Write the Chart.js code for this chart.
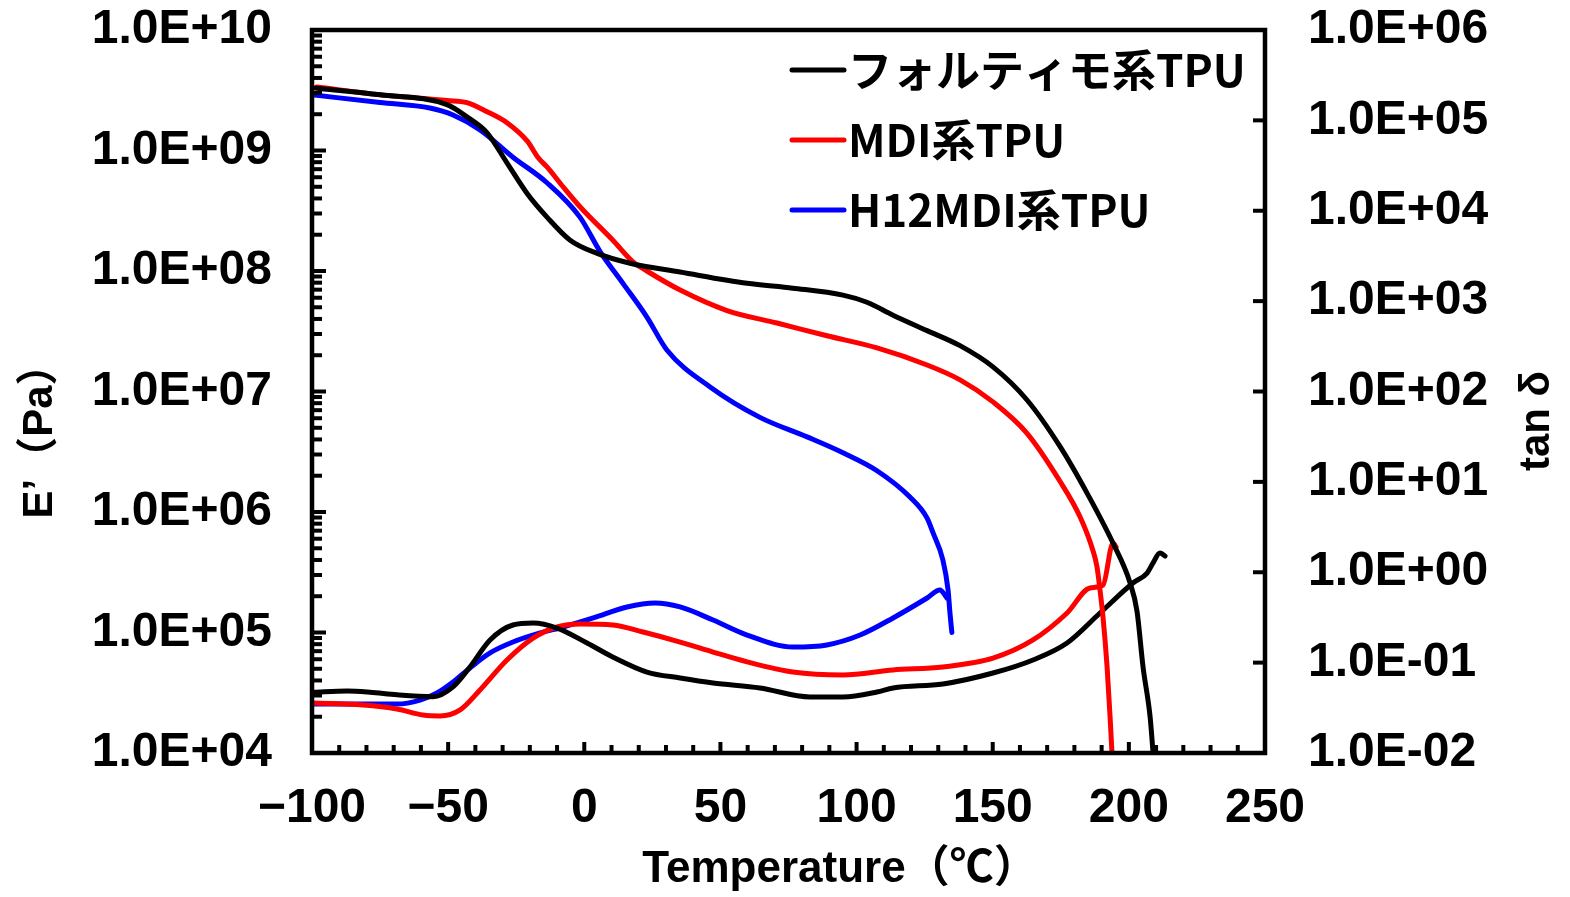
<!DOCTYPE html>
<html lang="ja">
<head>
  <meta charset="UTF-8" />
  <title>TPU E' / tan δ</title>
  <script src="https://cdn.jsdelivr.net/npm/chart.js@4.4.1/dist/chart.umd.min.js"></script>
  <style>
    * { margin: 0; padding: 0; box-sizing: border-box; }
    body { background: #ffffff; width: 1570px; height: 897px; overflow: hidden; }
    #chart { display: block; }
  </style>
</head>
<body>
  <canvas id="chart" width="1570" height="897"></canvas>

  <script>
    // Series labels
    const seriesNames = ['フォルティモ系TPU', 'MDI系TPU', 'H12MDI系TPU'];

    // E' (Pa), left axis
    const tempFortiE = [-98.9, -75, -50.4, -43.1, -35.7, -28.4, -21.0, -13.7, -5.2, 4.7, 16.8, 35.2, 59.8, 76.6, 95.0, 103.8, 113.4, 125.9, 138.0, 150.1, 162.6, 174.7, 184.6, 194.2, 200.4, 203.0, 205.2, 207.8, 208.9];
    const modFortiE = [3.3e9, 2.9e9, 2.4e9, 1.9e9, 1.4e9, 7.9e8, 4.4e8, 2.8e8, 1.8e8, 1.4e8, 1.16e8, 9.8e7, 7.9e7, 7.2e7, 6.3e7, 5.5e7, 4.3e7, 3.2e7, 2.4e7, 1.6e7, 8.5e6, 3.5e6, 1.44e6, 5.5e5, 2.6e5, 1.5e5, 5.2e4, 2.0e4, 1.0e4];

    const tempMdiE = [-98.2, -75.0, -50.4, -43.1, -35.7, -28.4, -21.0, -16.9, -13.7, -7.8, -1.5, 10.5, 17.9, 23.0, 35.2, 52.4, 70.8, 89.1, 107.5, 125.9, 138.0, 150.1, 162.6, 174.7, 182.1, 186.8, 188.3, 189.4, 190.5, 192.0, 193.1, 193.8];
    const modMdiE = [3.37e9, 2.9e9, 2.6e9, 2.5e9, 2.1e9, 1.7e9, 1.2e9, 8.7e8, 7.3e8, 5.0e8, 3.4e8, 1.8e8, 1.19e8, 1.0e8, 6.95e7, 4.7e7, 3.7e7, 2.9e7, 2.3e7, 1.66e7, 1.25e7, 8.2e6, 4.5e6, 1.8e6, 9.1e5, 4.8e5, 3.5e5, 2.25e5, 1.35e5, 5.2e4, 2.0e4, 1.0e4];

    const tempH12E = [-100, -75, -56.7, -48.2, -38.3, -26.2, -13.7, -1.6, 5.8, 14.2, 23.0, 30.4, 46.2, 64.5, 81.8, 95.0, 107.5, 119.6, 125.9, 128.1, 131.7, 133.6, 134.3, 135.0];
    const modH12E = [2.9e9, 2.5e9, 2.25e9, 1.97e9, 1.48e9, 8.8e8, 5.4e8, 2.8e8, 1.45e8, 7.9e7, 4.15e7, 2.2e7, 1.09e7, 6.1e6, 4.2e6, 3.1e6, 2.2e6, 1.33e6, 8.9e5, 6.7e5, 4.0e5, 2.25e5, 1.45e5, 1.0e5];

    // tan δ, right axis
    const tempFortiT = [-99.6, -87.1, -78.7, -68.8, -55.6, -48.2, -42.0, -34.6, -26.2, -18.8, -10.0, 1.0, 10.6, 23.0, 35.2, 47.3, 64.5, 82.9, 95.0, 107.5, 113.4, 131.7, 150.1, 164.8, 177.3, 189.4, 201.5, 206.7, 208.9, 211.4, 213.3];
    const tanFortiT = [0.047, 0.0485, 0.047, 0.044, 0.042, 0.054, 0.0895, 0.178, 0.261, 0.274, 0.241, 0.165, 0.115, 0.0787, 0.0676, 0.0595, 0.0524, 0.0417, 0.0417, 0.0473, 0.0524, 0.058, 0.0767, 0.107, 0.165, 0.354, 0.76, 0.98, 1.27, 1.63, 1.51];

    const tempMdiT = [-99.6, -81.3, -68.8, -59.2, -53.0, -45.6, -38.3, -28.4, -18.8, -10.0, -1.5, 10.5, 21.6, 35.2, 47.3, 59.8, 76.6, 95.0, 113.4, 131.7, 150.1, 164.8, 177.3, 185.7, 190.5, 194.2, 195.3];
    const tanMdiT = [0.0357, 0.034, 0.0307, 0.0263, 0.0257, 0.030, 0.0498, 0.107, 0.187, 0.248, 0.267, 0.261, 0.218, 0.169, 0.131, 0.102, 0.0787, 0.073, 0.083, 0.0895, 0.112, 0.178, 0.354, 0.67, 0.72, 2.11, 1.9];

    const tempH12T = [-99.6, -81.3, -68.8, -60.3, -54.1, -48.2, -42.0, -34.6, -26.2, -16.2, -7.7, 3.3, 15.7, 26.0, 35.2, 47.3, 59.8, 76.6, 89.1, 101.3, 113.4, 125.9, 130.6, 133.2];
    const tanH12T = [0.0348, 0.0348, 0.0348, 0.0385, 0.0461, 0.061, 0.0873, 0.128, 0.169, 0.213, 0.248, 0.312, 0.413, 0.457, 0.413, 0.296, 0.202, 0.149, 0.157, 0.202, 0.312, 0.519, 0.637, 0.519];

    // Axis ticks
    const leftExponents = [4, 5, 6, 7, 8, 9, 10];
    const rightExponents = [-2, -1, 0, 1, 2, 3, 4, 5, 6];
    const tempTicks = [-100, -50, 0, 50, 100, 150, 200, 250];

    const colors = ['#000000', '#ff0000', '#0000ff'];
    const tickFont = { family: "'Liberation Sans', Arial, sans-serif", size: 48, weight: 'bold' };

    const pts = (xs, ys) => xs.map((x, i) => ({ x: x, y: ys[i] }));
    const sciLabel = v => {
      const e = Math.round(Math.log10(v));
      const sign = e < 0 ? '-' : '+';
      return '1.0E' + sign + String(Math.abs(e)).padStart(2, '0');
    };
    // fixed box sizes so the plot area sits where the original has it
    const fixBox = (w, h) => s => {
      if (w !== null) s.width = w;
      if (h !== null) s.height = h;
      s.paddingTop = 0; s.paddingBottom = 0;
      s.paddingLeft = 0; s.paddingRight = 0;
    };

    function line(label, data, color, axis) {
      return {
        label: label,
        data: data,
        yAxisID: axis,
        borderColor: color,
        backgroundColor: color,
        borderWidth: 5,
        pointRadius: 0,
        fill: false,
        cubicInterpolationMode: 'monotone',
        borderCapStyle: 'round',
        borderJoinStyle: 'round'
      };
    }

    // frame, inward ticks, legend and axis titles
    const decor = {
      id: 'decor',
      afterDatasetsDraw(chart) {
        const ctx = chart.ctx;
        const a = chart.chartArea;
        const sx = chart.scales.x, sy = chart.scales.y, sy2 = chart.scales.y2;
        ctx.save();
        ctx.strokeStyle = '#000';
        ctx.lineCap = 'butt';

        // x ticks every 10, longer every 50
        ctx.lineWidth = 4;
        for (let t = -90; t < 250; t += 10) {
          const px = sx.getPixelForValue(t);
          const len = (t % 50 === 0) ? 11 : 8;
          ctx.beginPath();
          ctx.moveTo(px, a.bottom);
          ctx.lineTo(px, a.bottom - len);
          ctx.stroke();
        }
        // left log ticks with minors
        leftExponents.forEach(e => {
          for (let k = 1; k <= 9; k++) {
            if (e === 10 && k > 1) break;
            const py = sy.getPixelForValue(k * Math.pow(10, e));
            const len = k === 1 ? 14 : 10;
            ctx.beginPath();
            ctx.moveTo(a.left, py);
            ctx.lineTo(a.left + len, py);
            ctx.stroke();
          }
        });
        // right major ticks
        rightExponents.forEach(e => {
          const py = sy2.getPixelForValue(Math.pow(10, e));
          ctx.beginPath();
          ctx.moveTo(a.right, py);
          ctx.lineTo(a.right - 12, py);
          ctx.stroke();
        });

        // frame
        ctx.lineWidth = 4.5;
        ctx.strokeRect(a.left, a.top, a.right - a.left, a.bottom - a.top);

        // legend
        ctx.font = "bold 44px 'Noto Sans CJK JP', sans-serif";
        ctx.textBaseline = 'middle';
        ctx.textAlign = 'left';
        ctx.lineCap = 'round';
        seriesNames.forEach((name, i) => {
          const y = 70 + i * 70;
          ctx.strokeStyle = colors[i];
          ctx.lineWidth = 5;
          ctx.beginPath();
          ctx.moveTo(792, y);
          ctx.lineTo(844, y);
          ctx.stroke();
          ctx.fillStyle = '#000';
          ctx.fillText(name, 848, y);
        });

        // axis titles
        ctx.fillStyle = '#000';
        ctx.textAlign = 'center';
        ctx.font = "bold 44px 'Liberation Sans', 'Noto Sans CJK JP', sans-serif";
        ctx.fillText('Temperature（℃）', 840, 870);

        ctx.font = "bold 42px 'Liberation Sans', 'Noto Sans CJK JP', sans-serif";
        ctx.save();
        ctx.translate(40, 431);
        ctx.rotate(-Math.PI / 2);
        ctx.fillText('E’（Pa）', 0, 0);
        ctx.restore();

        ctx.save();
        ctx.translate(1537, 421);
        ctx.rotate(-Math.PI / 2);
        ctx.fillText('tan δ', 0, 0);
        ctx.restore();

        ctx.restore();
      }
    };

    const ctxChart = document.getElementById('chart').getContext('2d');
    const chart = new Chart(ctxChart, {
      type: 'line',
      data: {
        datasets: [
          line(seriesNames[0], pts(tempFortiE, modFortiE), colors[0], 'y'),
          line(seriesNames[1], pts(tempMdiE, modMdiE), colors[1], 'y'),
          line(seriesNames[2], pts(tempH12E, modH12E), colors[2], 'y'),
          line(seriesNames[0] + ' tanδ', pts(tempFortiT, tanFortiT), colors[0], 'y2'),
          line(seriesNames[1] + ' tanδ', pts(tempMdiT, tanMdiT), colors[1], 'y2'),
          line(seriesNames[2] + ' tanδ', pts(tempH12T, tanH12T), colors[2], 'y2')
        ]
      },
      options: {
        responsive: false,
        animation: false,
        devicePixelRatio: 1,
        layout: { padding: { top: 30, left: 0, right: 0, bottom: 0 } },
        plugins: {
          legend: { display: false },
          tooltip: { enabled: false }
        },
        scales: {
          x: {
            type: 'linear',
            min: -100,
            max: 250,
            afterBuildTicks: s => { s.ticks = tempTicks.map(v => ({ value: v })); },
            afterFit: fixBox(null, 144),
            grid: { display: false, drawTicks: false },
            border: { display: false },
            ticks: {
              color: '#000',
              font: tickFont,
              padding: 27,
              maxRotation: 0,
              callback: v => (v < 0 ? '−' + Math.abs(v) : String(v))
            }
          },
          y: {
            type: 'logarithmic',
            position: 'left',
            min: 1e4,
            max: 1e10,
            afterBuildTicks: s => { s.ticks = leftExponents.map(e => ({ value: Math.pow(10, e) })); },
            afterFit: fixBox(312, null),
            grid: { display: false, drawTicks: false },
            border: { display: false },
            ticks: { color: '#000', font: tickFont, padding: 40, callback: sciLabel }
          },
          y2: {
            type: 'logarithmic',
            position: 'right',
            min: 1e-2,
            max: 1e6,
            afterBuildTicks: s => { s.ticks = rightExponents.map(e => ({ value: Math.pow(10, e) })); },
            afterFit: fixBox(305, null),
            grid: { display: false, drawTicks: false },
            border: { display: false },
            ticks: { color: '#000', font: tickFont, padding: 43, callback: sciLabel }
          }
        }
      },
      plugins: [decor]
    });
  </script>
</body>
</html>
